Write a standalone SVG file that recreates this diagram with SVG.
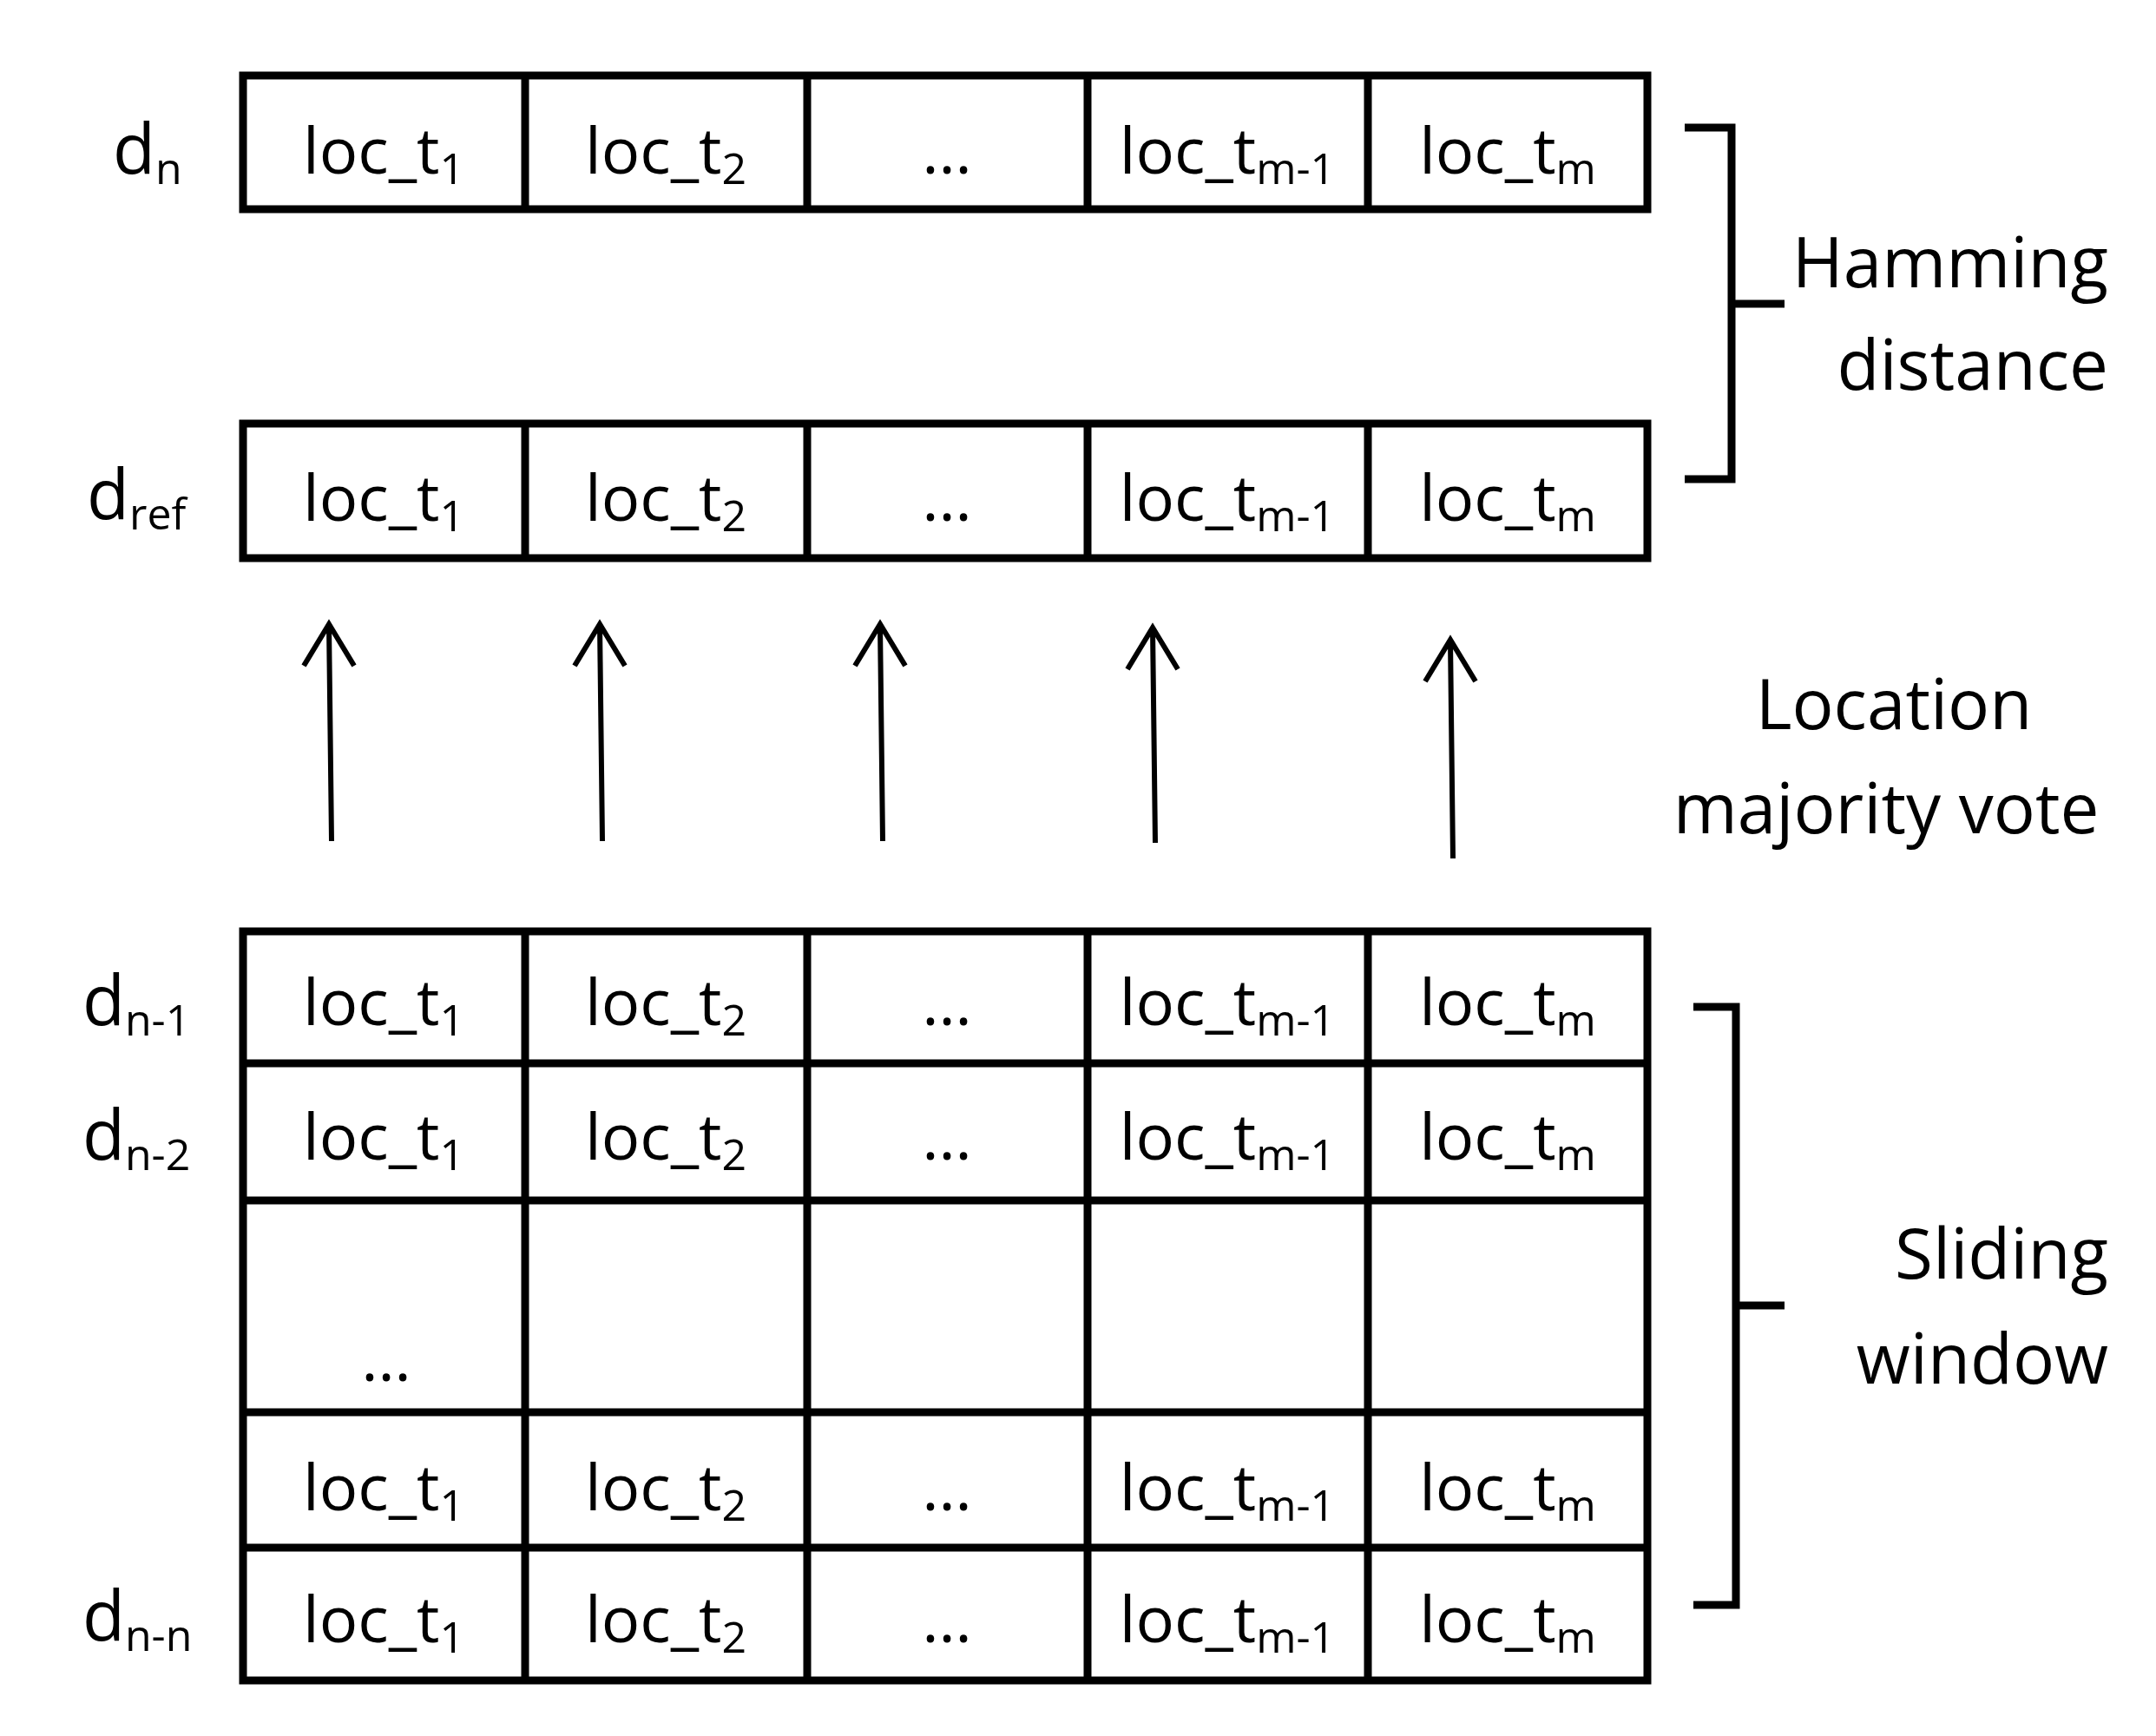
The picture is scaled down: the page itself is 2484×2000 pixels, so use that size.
<svg xmlns="http://www.w3.org/2000/svg" width="2484" height="2000" viewBox="0 0 2484 2000">
<style>
.g{fill:none;stroke:#000;stroke-width:9}
.t{font-family:"Open Sans","Liberation Sans",sans-serif;font-size:74px;fill:#000;text-anchor:middle}
.l{font-family:"Open Sans","Liberation Sans",sans-serif;font-size:80px;fill:#000}
.s{font-size:50px}
.a{stroke:#000;stroke-width:6;fill:none}
</style>
<rect width="2484" height="2000" fill="#fff"/>
<g id="row_dn">
<rect class="g" x="280" y="87" width="1618" height="154"/>
<path class="g" d="M605 87V241M930 87V241M1253 87V241M1576 87V241"/>
<text class="t" y="200"><tspan x="442">loc_t<tspan class="s" dy="12">1</tspan></tspan><tspan x="767" dy="-12">loc_t<tspan class="s" dy="12">2</tspan></tspan><tspan x="1091" dy="-12">…</tspan><tspan x="1414">loc_t<tspan class="s" dy="12">m-1</tspan></tspan><tspan x="1737" dy="-12">loc_t<tspan class="s" dy="12">m</tspan></tspan></text>
<text class="l" x="130" y="200">d<tspan class="s" dy="12">n</tspan></text>
</g>
<g id="row_dref">
<rect class="g" x="280" y="488" width="1618" height="155"/>
<path class="g" d="M605 488V643M930 488V643M1253 488V643M1576 488V643"/>
<text class="t" y="600"><tspan x="442">loc_t<tspan class="s" dy="12">1</tspan></tspan><tspan x="767" dy="-12">loc_t<tspan class="s" dy="12">2</tspan></tspan><tspan x="1091" dy="-12">…</tspan><tspan x="1414">loc_t<tspan class="s" dy="12">m-1</tspan></tspan><tspan x="1737" dy="-12">loc_t<tspan class="s" dy="12">m</tspan></tspan></text>
<text class="l" x="100" y="598">d<tspan class="s" dy="12">ref</tspan></text>
</g>
<g id="window">
<rect class="g" x="280" y="1073" width="1618" height="863"/>
<path class="g" d="M605 1073V1936M930 1073V1936M1253 1073V1936M1576 1073V1936M280 1225H1898M280 1383H1898M280 1627H1898M280 1783H1898"/>
<text class="t" y="1181"><tspan x="442">loc_t<tspan class="s" dy="12">1</tspan></tspan><tspan x="767" dy="-12">loc_t<tspan class="s" dy="12">2</tspan></tspan><tspan x="1091" dy="-12">…</tspan><tspan x="1414">loc_t<tspan class="s" dy="12">m-1</tspan></tspan><tspan x="1737" dy="-12">loc_t<tspan class="s" dy="12">m</tspan></tspan></text>
<text class="t" y="1336"><tspan x="442">loc_t<tspan class="s" dy="12">1</tspan></tspan><tspan x="767" dy="-12">loc_t<tspan class="s" dy="12">2</tspan></tspan><tspan x="1091" dy="-12">…</tspan><tspan x="1414">loc_t<tspan class="s" dy="12">m-1</tspan></tspan><tspan x="1737" dy="-12">loc_t<tspan class="s" dy="12">m</tspan></tspan></text>
<text class="t" x="445" y="1591">…</text>
<text class="t" y="1740"><tspan x="442">loc_t<tspan class="s" dy="12">1</tspan></tspan><tspan x="767" dy="-12">loc_t<tspan class="s" dy="12">2</tspan></tspan><tspan x="1091" dy="-12">…</tspan><tspan x="1414">loc_t<tspan class="s" dy="12">m-1</tspan></tspan><tspan x="1737" dy="-12">loc_t<tspan class="s" dy="12">m</tspan></tspan></text>
<text class="t" y="1892"><tspan x="442">loc_t<tspan class="s" dy="12">1</tspan></tspan><tspan x="767" dy="-12">loc_t<tspan class="s" dy="12">2</tspan></tspan><tspan x="1091" dy="-12">…</tspan><tspan x="1414">loc_t<tspan class="s" dy="12">m-1</tspan></tspan><tspan x="1737" dy="-12">loc_t<tspan class="s" dy="12">m</tspan></tspan></text>
<text class="l" x="95" y="1181">d<tspan class="s" dy="12">n-1</tspan></text>
<text class="l" x="95" y="1336">d<tspan class="s" dy="12">n-2</tspan></text>
<text class="l" x="95" y="1890">d<tspan class="s" dy="12">n-n</tspan></text>
</g>
<g id="connectors">
<path class="a" d="M382 969L379 719M350 767L379 719L408 767"/>
<path class="a" d="M694 969L691 719M662 767L691 719L720 767"/>
<path class="a" d="M1017 969L1014 719M985 767L1014 719L1043 767"/>
<path class="a" d="M1331 971L1328 723M1299 771L1328 723L1357 771"/>
<path class="a" d="M1674 989L1671 737M1642 785L1671 737L1700 785"/>
<path class="a" style="stroke-width:9" d="M1941 147H1995V552H1941M1995 350H2056"/>
<path class="a" style="stroke-width:9" d="M1951 1160H2000V1849H1951M2000 1504H2056"/>
</g>
<g id="labels" class="l">
<text x="2429" y="331" text-anchor="end">Hamming</text>
<text x="2429" y="449" text-anchor="end">distance</text>
<text x="2182" y="840" text-anchor="middle">Location</text>
<text x="2173" y="960" text-anchor="middle">majority vote</text>
<text x="2429" y="1473" text-anchor="end">Sliding</text>
<text x="2429" y="1594" text-anchor="end">window</text>
</g>
</svg>
